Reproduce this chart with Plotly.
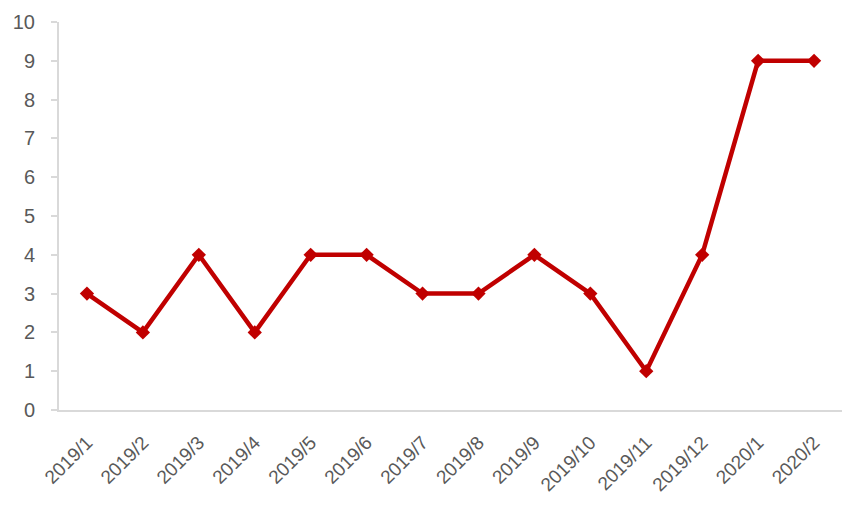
import plotly.graph_objects as go

categories = ["2019/1", "2019/2", "2019/3", "2019/4", "2019/5", "2019/6", "2019/7",
              "2019/8", "2019/9", "2019/10", "2019/11", "2019/12", "2020/1", "2020/2"]
values = [3, 2, 4, 2, 4, 4, 3, 3, 4, 3, 1, 4, 9, 9]
y_ticks = list(range(0, 11))

fig = go.Figure()
fig.add_trace(go.Scatter(
    x=categories, y=values, mode="lines+markers",
    line=dict(color="#C00000", width=4.5),
    marker=dict(symbol="diamond", size=11, color="#C00000"),
    showlegend=False,
))

font_family = "Liberation Sans, Arial, sans-serif"
fig.update_layout(
    width=857, height=497,
    margin=dict(l=51, r=23, t=14, b=95, autoexpand=False),
    paper_bgcolor="white", plot_bgcolor="white",
    font=dict(family=font_family, color="#595959"),
)
fig.update_xaxes(
    type="category", tickangle=-45, tickfont=dict(size=19, color="#595959"),
    showgrid=False, showline=True, linecolor="#D9D9D9", linewidth=2,
    ticks="", ticklabelstandoff=12, range=[-0.5, len(categories) - 0.5],
    automargin=False,
)
fig.update_yaxes(
    range=[0, 10], tickvals=y_ticks, tickfont=dict(size=20, color="#595959"),
    showgrid=False, showline=True, linecolor="#D9D9D9", linewidth=2,
    ticks="outside", ticklen=6, tickcolor="#D9D9D9", tickwidth=2,
    ticklabelstandoff=12, zeroline=False, automargin=False,
)
fig.write_html("out.html")
